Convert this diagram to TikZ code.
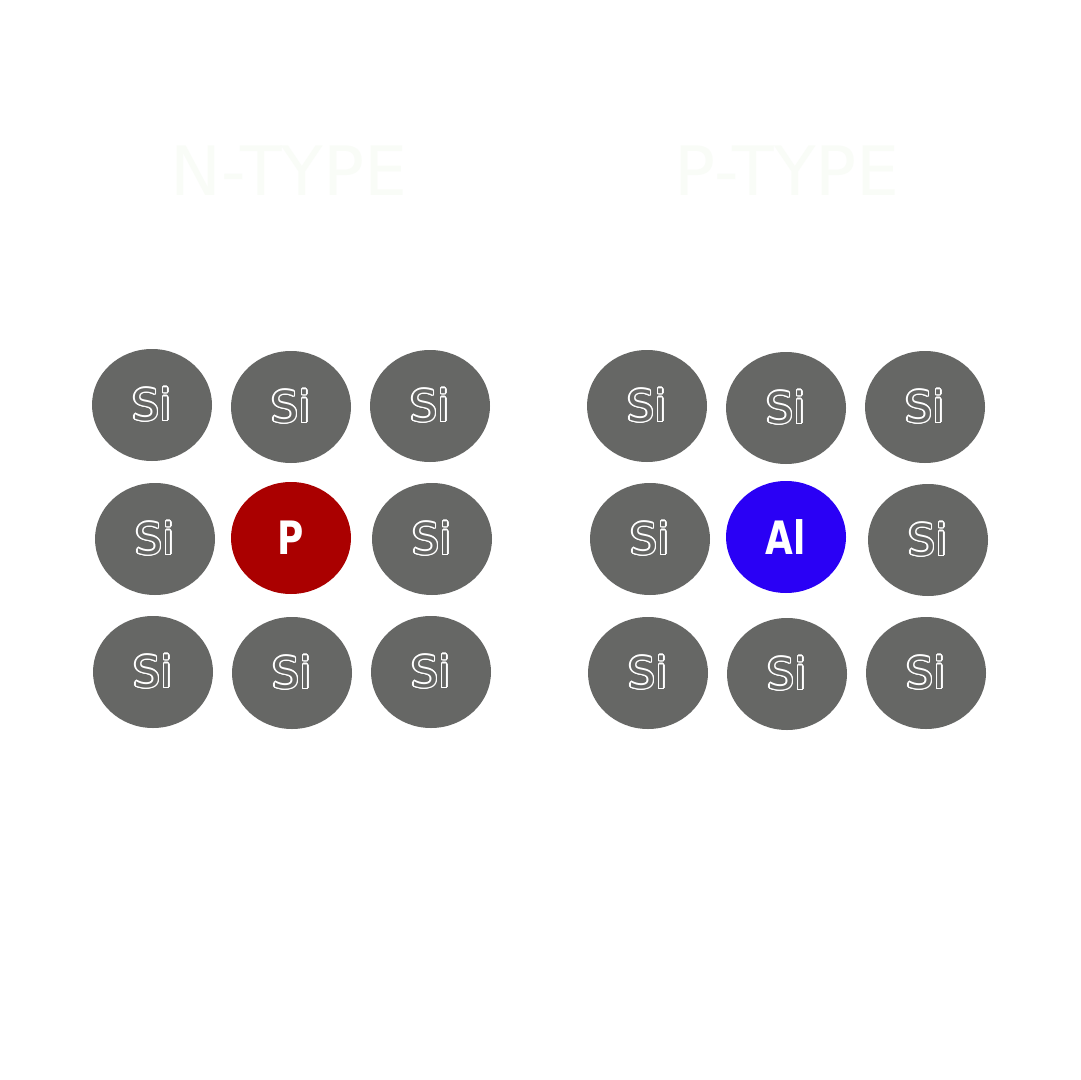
\documentclass[tikz,border=0pt]{standalone}
\usepackage{fontspec}
\setmainfont{DejaVu Sans}
\usepackage{graphicx}
\usepackage{contour}
\contourlength{0.7pt}
\usetikzlibrary{shapes.geometric}
\definecolor{sigrey}{RGB}{102,103,101}
\definecolor{pred}{RGB}{170,0,0}
\definecolor{alblue}{RGB}{42,0,245}
\definecolor{titlecol}{RGB}{249,252,247}
\tikzset{
  atom/.style={ellipse, minimum width=60pt, minimum height=56pt, inner sep=0pt, fill=sigrey},
  si/.style={atom, font=\fontsize{21.5}{21.5}\selectfont},
  dopant/.style={atom, text=white, font=\fontsize{23}{23}\selectfont\bfseries},
  title/.style={text=titlecol, font=\fontsize{34}{34}\selectfont, inner sep=0pt}
}
\newcommand{\siatom}{\contour{white}{\textcolor{sigrey}{Si}}}
\newcommand{\narrowtext}[1]{\scalebox{0.78}[1]{#1}}
\begin{document}
\begin{tikzpicture}[x=0.5pt,y=-0.5pt]
\useasboundingbox[fill=white] (0,0) rectangle (1080,1080);
\node[title] (ntitle) at (289,171) {N-TYPE};
\node[title] (ptitle) at (787,171) {P-TYPE};
% left group
\node[si] (l11) at (152,405) {\siatom};
\node[si] (l12) at (291,407) {\siatom};
\node[si] (l13) at (430,406) {\siatom};
\node[si] (l21) at (155,539) {\siatom};
\node[dopant, fill=pred] (l22) at (291,538) {\narrowtext{P}};
\node[si] (l23) at (432,539) {\siatom};
\node[si] (l31) at (153,672) {\siatom};
\node[si] (l32) at (292,673) {\siatom};
\node[si] (l33) at (431,672) {\siatom};
% right group
\node[si] (r11) at (647,406) {\siatom};
\node[si] (r12) at (786,408) {\siatom};
\node[si] (r13) at (925,407) {\siatom};
\node[si] (r21) at (650,539) {\siatom};
\node[dopant, fill=alblue] (r22) at (786,537) {\narrowtext{Al}};
\node[si] (r23) at (928,540) {\siatom};
\node[si] (r31) at (648,673) {\siatom};
\node[si] (r32) at (787,674) {\siatom};
\node[si] (r33) at (926,673) {\siatom};
\end{tikzpicture}
\end{document}
